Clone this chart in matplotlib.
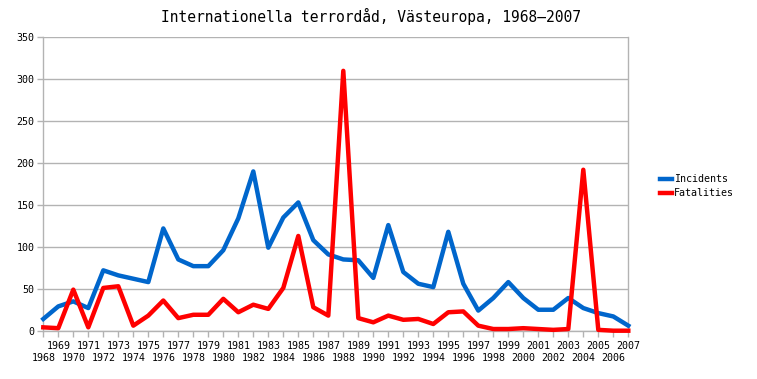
import matplotlib
matplotlib.use("Agg")
import matplotlib.pyplot as plt

years = list(range(1968, 2008))
incidents = [14, 29, 35, 27, 72, 66, 62, 58, 122, 85, 77, 77, 96, 134, 190, 99,
             135, 153, 108, 91, 85, 84, 63, 126, 70, 56, 52, 118, 56, 24,
             39, 58, 39, 25, 25, 39, 27, 21, 17, 6]
fatalities = [4, 3, 49, 4, 51, 53, 6, 18, 36, 15, 19, 19, 38, 22, 31, 26,
              51, 113, 28, 18, 310, 15, 10, 18, 13, 14, 8, 22, 23, 6,
              2, 2, 3, 2, 1, 2, 192, 1, 0, 0]

grid_col = "#b3b3b3"
plt.rcParams["font.family"] = "DejaVu Sans Mono"

fig = plt.figure(figsize=(7.57, 3.79), dpi=100)
ax = fig.add_axes([43.3 / 757, 1 - 330.7 / 379, (628.3 - 43.3) / 757, (330.7 - 37.3) / 379])

ax.plot(years, incidents, color="#0066cc", lw=3.2, label="Incidents", clip_on=False, zorder=3)
ax.plot(years, fatalities, color="#ff0000", lw=3.2, label="Fatalities", clip_on=False, zorder=3)

ax.set_xlim(1968, 2007)
ax.set_ylim(0, 350)
ax.set_yticks(range(0, 351, 50))
ax.yaxis.grid(True, color=grid_col, lw=1)
ax.set_axisbelow(True)

# odd years on the upper row, even years on the lower row
odd = [y for y in years if y % 2 == 1]
even = [y for y in years if y % 2 == 0]
ax.set_xticks(odd)
ax.set_xticklabels([str(y) for y in odd])
ax.set_xticks(even, minor=True)
ax.set_xticklabels([str(y) for y in even], minor=True)

ax.tick_params(axis="both", which="both", colors=grid_col, labelcolor="black",
               labelsize=7.2, length=4.3, width=1)
ax.tick_params(axis="x", which="major", pad=3)
ax.tick_params(axis="x", which="minor", pad=11.5)
ax.tick_params(axis="y", pad=2)

for s in ["left", "right", "bottom"]:
    ax.spines[s].set_color(grid_col)
    ax.spines[s].set_linewidth(1)
ax.spines["top"].set_visible(False)

fig.text(371 / 757, 1 - 16 / 379, "Internationella terrordåd, Västeuropa, 1968–2007",
         fontsize=10.5, ha="center", va="center")

ax.legend(loc="center left", bbox_to_anchor=(1.055, 0.493), frameon=False, fontsize=7.2,
          handlelength=1.15, handletextpad=0.2, borderaxespad=0, borderpad=0, labelspacing=0.4)

fig.savefig("out.png", dpi=100)
